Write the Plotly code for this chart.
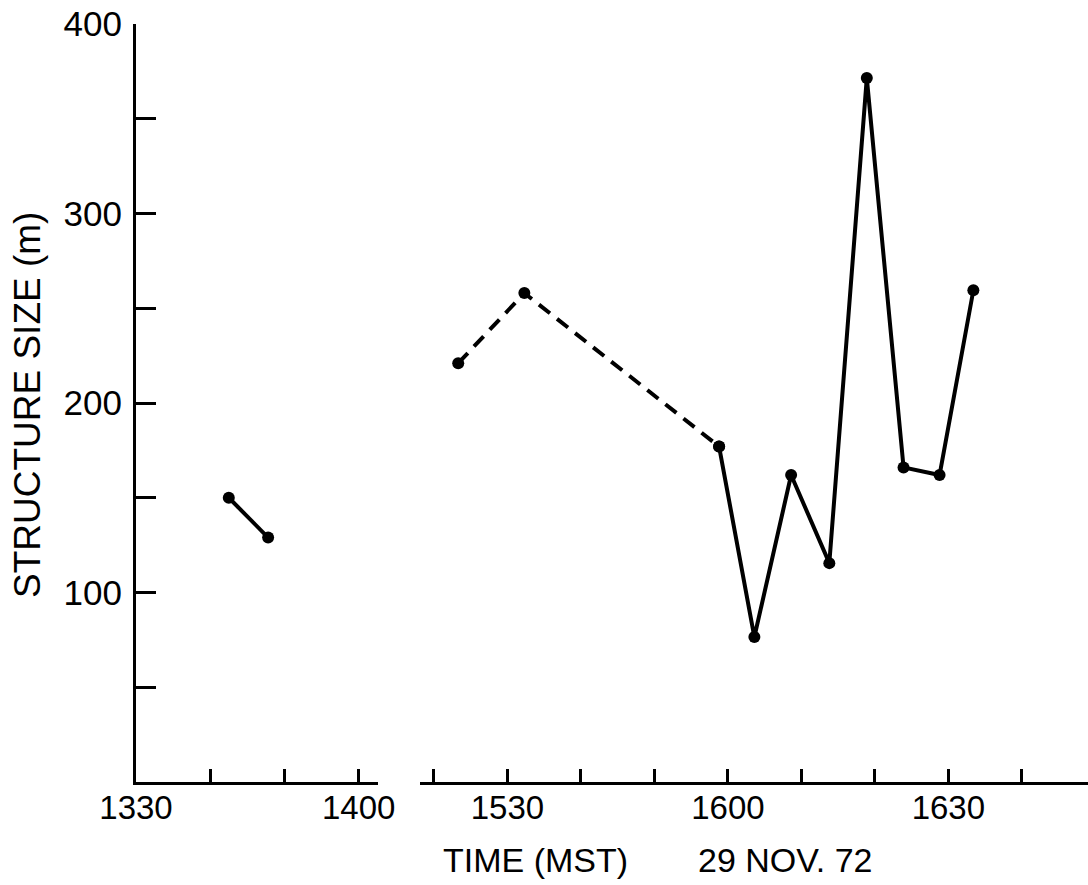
import plotly.graph_objects as go

# Times are minutes after 13:00 MST on 29 Nov 1972
early_time = [42.5, 47.8]
early_size = [150, 129]

dashed_time = [143.3, 152.3, 178.8]
dashed_size = [221, 258, 177]

solid_time = [178.8, 183.6, 188.6, 193.8, 198.9, 203.9, 208.8, 213.4]
solid_size = [177, 76.5, 162, 115.5, 371.5, 166, 162, 259.5]

left_ticks = [30, 40, 50, 60]
left_labels = ["1330", "", "", "1400"]
right_ticks = [140, 150, 160, 170, 180, 190, 200, 210, 220]
right_labels = ["", "1530", "", "", "1600", "", "", "1630", ""]
y_ticks = [50, 100, 150, 200, 250, 300, 350, 400]
y_labels = ["", "100", "", "200", "", "300", "", "400"]

W, H = 1088, 885
FONT = "Liberation Sans"
INK = "black"


def px_x(p):
    return p / W


def px_y(p):
    return 1 - p / H


line_style = dict(color=INK, width=4)
marker_style = dict(color=INK, size=12)

fig = go.Figure()
fig.add_trace(go.Scatter(x=early_time, y=early_size, mode="lines+markers",
                         line=line_style, marker=marker_style,
                         xaxis="x", yaxis="y", showlegend=False))
fig.add_trace(go.Scatter(x=dashed_time, y=dashed_size, mode="lines+markers",
                         line=dict(color=INK, width=4, dash="14px,9px"),
                         marker=marker_style,
                         xaxis="x2", yaxis="y", showlegend=False))
fig.add_trace(go.Scatter(x=solid_time, y=solid_size, mode="lines+markers",
                         line=line_style, marker=marker_style,
                         xaxis="x2", yaxis="y", showlegend=False))

axis_common = dict(showline=True, linecolor=INK, linewidth=3,
                   showgrid=False, zeroline=False, ticks="inside",
                   tickcolor=INK, tickwidth=2.5, automargin=False,
                   tickmode="array",
                   tickfont=dict(family=FONT, size=33, color=INK))

fig.update_layout(
    width=W, height=H,
    margin=dict(l=0, r=0, t=0, b=0),
    paper_bgcolor="white", plot_bgcolor="white",
    xaxis=dict(axis_common, domain=[px_x(136), px_x(378)],
               range=[30, 62.6], tickvals=left_ticks, ticktext=left_labels,
               ticklen=13, anchor="y", ticklabelstandoff=-6),
    xaxis2=dict(axis_common, domain=[px_x(420), 1.0],
                range=[138.1, 229.0], tickvals=right_ticks, ticktext=right_labels,
                ticklen=13, anchor="y", ticklabelstandoff=-6),
    yaxis=dict(axis_common, domain=[px_y(782), px_y(24)],
               range=[0, 400], tickvals=y_ticks, ticktext=y_labels,
               ticklen=20, anchor="x", ticklabelstandoff=4,
               tickfont=dict(family=FONT, size=35, color=INK)),
    annotations=[
        dict(text="STRUCTURE SIZE (m)", xref="paper", yref="paper",
             x=px_x(27), y=px_y(405), textangle=-90, showarrow=False,
             xanchor="center", yanchor="middle",
             font=dict(family=FONT, size=37, color=INK)),
        dict(text="TIME (MST)", xref="paper", yref="paper",
             x=px_x(535), y=px_y(860), showarrow=False,
             xanchor="center", yanchor="middle",
             font=dict(family=FONT, size=34, color=INK)),
        dict(text="29 NOV. 72", xref="paper", yref="paper",
             x=px_x(785), y=px_y(860), showarrow=False,
             xanchor="center", yanchor="middle",
             font=dict(family=FONT, size=34, color=INK)),
    ],
)

fig.write_html("out.html")
